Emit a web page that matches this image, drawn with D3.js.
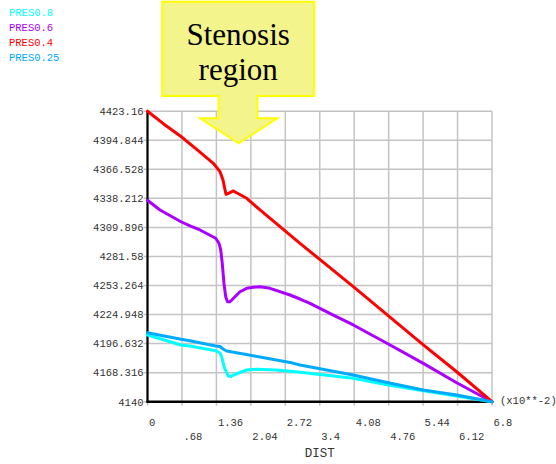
<!DOCTYPE html>
<html>
<head>
<meta charset="utf-8">
<script src="https://cdn.jsdelivr.net/npm/d3@7/dist/d3.min.js"></script>
<style>
  html, body { margin: 0; padding: 0; background: #fff; }
  svg { display: block; }
  .mono { font-family: "Liberation Mono", "DejaVu Sans Mono", monospace; }
</style>
</head>
<body>
<svg id="chart" width="556" height="464"></svg>
<script>
// Distance along the vessel (x10**-2 m)
const xTickValues = [0, 0.68, 1.36, 2.04, 2.72, 3.4, 4.08, 4.76, 5.44, 6.12, 6.8];
const xTickLabels = ["0", ".68", "1.36", "2.04", "2.72", "3.4", "4.08", "4.76", "5.44", "6.12", "6.8"];

// Pressure axis
const yTickValues = [4140, 4168.316, 4196.632, 4224.948, 4253.264, 4281.58, 4309.896, 4338.212, 4366.528, 4394.844, 4423.16];
const yTickLabels = ["4140", "4168.316", "4196.632", "4224.948", "4253.264", "4281.58", "4309.896", "4338.212", "4366.528", "4394.844", "4423.16"];

// Pressure profiles, drawn in this order
const seriesNames = ["PRES0.8", "PRES0.6", "PRES0.4", "PRES0.25"];
const seriesColors = ["#00FFFF", "#AA00FF", "#FF0000", "#00AAFF"];

const pres08 = [
  [0, 4205.0], [0.661, 4195.3], [0.839, 4194.3], [1.346, 4189.7], [1.431, 4187.5],
  [1.465, 4183.6], [1.496, 4177.4], [1.520, 4172.8], [1.595, 4165.0], [1.648, 4164.6],
  [1.694, 4166.0], [1.958, 4170.9], [2.156, 4171.6], [2.550, 4170.9], [2.813, 4169.6],
  [3.010, 4168.8], [4.062, 4162.8], [4.753, 4156.3], [5.444, 4150.7], [6.103, 4145.6],
  [6.8, 4140]
];
const pres06 = [
  [0, 4336.3], [0.247, 4326.9], [0.661, 4315.4], [0.839, 4311.3], [1.036, 4307.4],
  [1.346, 4299.3], [1.411, 4294.4], [1.445, 4288.0], [1.475, 4275.0], [1.510, 4255.0],
  [1.545, 4242.0], [1.580, 4237.5], [1.620, 4237.3], [1.662, 4239.1],
  [1.826, 4247.2], [1.958, 4250.5], [2.088, 4251.5], [2.221, 4252.1], [2.418, 4250.5],
  [2.813, 4244.0], [3.010, 4240.1], [3.207, 4235.9], [3.667, 4224.4], [4.062, 4214.8],
  [4.753, 4196.2], [5.444, 4177.4], [6.103, 4158.5], [6.8, 4140]
];
const pres04 = [
  [0, 4423.16], [0.312, 4411.0], [0.661, 4398.5], [0.971, 4386.0],
  [1.299, 4372.4], [1.431, 4364.2], [1.490, 4356.1], [1.549, 4342.2], [1.609, 4343.4],
  [1.694, 4345.4], [1.958, 4338.3], [2.221, 4326.9], [3.010, 4294.4], [4.062, 4252.1],
  [5.444, 4195.3], [6.103, 4169.2], [6.8, 4140]
];
const pres025 = [
  [0, 4207.3], [0.661, 4200.8], [0.839, 4199.5], [1.346, 4194.3], [1.431, 4193.8],
  [1.490, 4191.4], [1.563, 4189.4], [2.221, 4183.5], [2.813, 4178.3], [3.010, 4175.8],
  [4.062, 4166.0], [4.753, 4158.4], [5.444, 4151.4], [6.103, 4146.5], [6.8, 4140]
];
const seriesData = [pres08, pres06, pres04, pres025];

// Where the narrowing of the vessel sits along x
const stenosisAt = 1.8;
const calloutLines = ["Stenosis", "region"];

const svg = d3.select("#chart");

const x = d3.scaleLinear().domain([0, 6.8]).range([147.5, 492]);
const y = d3.scaleLinear().domain([4140, 4423.16]).range([401.7, 111.2]);

// Grid
const grid = svg.append("g").attr("stroke", "#C4C4C4").attr("stroke-width", 1.5);
grid.selectAll("line.v").data(xTickValues).join("line")
  .attr("class", "v")
  .attr("x1", d => x(d)).attr("x2", d => x(d))
  .attr("y1", y(4423.16)).attr("y2", y(4140) + 4);
grid.selectAll("line.h").data(yTickValues).join("line")
  .attr("class", "h")
  .attr("x1", x(0) - 4).attr("x2", x(6.8))
  .attr("y1", d => y(d)).attr("y2", d => y(d));

// Axes lines
svg.append("line")
  .attr("x1", x(0)).attr("x2", x(0))
  .attr("y1", y(4423.16)).attr("y2", y(4140) + 1)
  .attr("stroke", "#000").attr("stroke-width", 2.2);
svg.append("line")
  .attr("x1", x(0) - 1).attr("x2", x(6.8))
  .attr("y1", y(4140)).attr("y2", y(4140))
  .attr("stroke", "#000").attr("stroke-width", 2.4);

// Y tick labels
svg.append("g").attr("class", "mono")
  .selectAll("text").data(yTickValues).join("text")
  .attr("x", x(0) - 4)
  .attr("y", d => y(d) + 3.8)
  .attr("text-anchor", "end")
  .attr("font-size", "10.5px")
  .attr("fill", "#333")
  .text((d, i) => yTickLabels[i]);

// X tick labels, staggered on two rows
svg.append("g").attr("class", "mono")
  .selectAll("text").data(xTickValues).join("text")
  .attr("x", d => x(d) + 1.5)
  .attr("y", (d, i) => i % 2 === 0 ? 425.5 : 439.5)
  .attr("font-size", "10.5px")
  .attr("fill", "#333")
  .text((d, i) => xTickLabels[i]);

svg.append("text").attr("class", "mono")
  .attr("x", (x(0) + x(6.8)) / 2).attr("y", 457)
  .attr("text-anchor", "middle")
  .attr("font-size", "12.5px")
  .attr("fill", "#333")
  .text("DIST");

svg.append("text").attr("class", "mono")
  .attr("x", x(6.8) + 8).attr("y", 403.5)
  .attr("font-size", "10.5px")
  .attr("fill", "#333")
  .text("(x10**-2)");

// Curves
const line = d3.line().x(d => x(d[0])).y(d => y(d[1]));
svg.append("g").selectAll("path").data(seriesData).join("path")
  .attr("d", line)
  .attr("fill", "none")
  .attr("stroke", (d, i) => seriesColors[i])
  .attr("stroke-width", 3)
  .attr("stroke-linejoin", "round")
  .attr("stroke-linecap", "round");

// Legend
svg.append("g").attr("class", "mono")
  .selectAll("text").data(seriesNames).join("text")
  .attr("x", 9)
  .attr("y", (d, i) => 16.3 + i * 15)
  .attr("font-size", "10.5px")
  .attr("fill", (d, i) => seriesColors[i])
  .text(d => d);

// Callout pointing at the stenosis
const tipX = x(stenosisAt), tipY = 143.3;
const boxL = tipX - 76.5, boxR = tipX + 75.5, boxT = 1.7, boxB = 96;
const shaftL = tipX - 20, shaftR = tipX + 18.7, headY = 118.3, headL = tipX - 38.5, headR = tipX + 38.7;
const callout = d3.path();
callout.moveTo(boxL, boxT);
callout.lineTo(boxR, boxT);
callout.lineTo(boxR, boxB);
callout.lineTo(shaftR, boxB);
callout.lineTo(shaftR, headY);
callout.lineTo(headR, headY);
callout.lineTo(tipX, tipY);
callout.lineTo(headL, headY);
callout.lineTo(shaftL, headY);
callout.lineTo(shaftL, boxB);
callout.lineTo(boxL, boxB);
callout.closePath();
svg.append("path")
  .attr("d", callout.toString())
  .attr("fill", "#F4F48C")
  .attr("stroke", "#FFFF00")
  .attr("stroke-width", 2)
  .attr("stroke-linejoin", "miter");

svg.append("g")
  .selectAll("text").data(calloutLines).join("text")
  .attr("x", (boxL + boxR) / 2)
  .attr("y", (d, i) => 45 + i * 35)
  .attr("text-anchor", "middle")
  .attr("font-family", "'Liberation Serif', 'DejaVu Serif', serif")
  .attr("font-size", "31px")
  .attr("fill", "#000")
  .text(d => d);
</script>
</body>
</html>
